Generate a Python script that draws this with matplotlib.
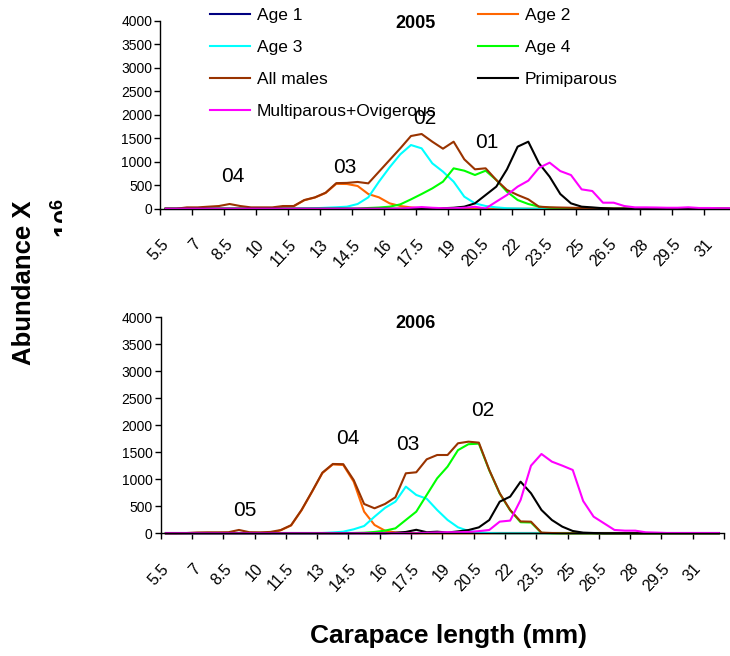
#! /usr/bin/env python3

import matplotlib
matplotlib.use('Agg')
import matplotlib.pyplot as plt
from matplotlib.patches import Rectangle
import numpy as np

# carapace length classes (0.5 mm bins, 5.5 .. 32)
n_class = 54
tick_labels = ['5.5', '7', '8.5', '10', '11.5', '13', '14.5', '16', '17.5',
               '19', '20.5', '22', '23.5', '25', '26.5', '28', '29.5', '31']

series_names = ['Age 1', 'Age 2', 'Age 3', 'Age 4', 'All males',
                'Primiparous', 'Multiparous+Ovigerous']
series_colors = ['#000080', '#FF6600', '#00FFFF', '#00FF00', '#993300',
                 '#000000', '#FF00FF']

# 2005 abundance (x 10^6)
age1_2005 = [0] * 54
age2_2005 = [0] * 11 + [40, 50, 180, 238, 335, 530, 526, 484, 313, 242, 114,
                        57, 28, 10] + [0] * 29
age3_2005 = [0] * 13 + [5, 10, 20, 30, 43, 100, 242, 576, 882, 1159, 1357,
                        1286, 967, 790, 576, 256, 114, 57, 28, 10, 5] + [0] * 20
age4_2005 = [0] * 19 + [15, 25, 43, 92, 199, 313, 433, 576, 860, 810, 718,
                        810, 612, 363, 185, 100, 43, 20, 10] + [0] * 16
males_2005 = [0, 0, 28, 28, 43, 57, 100, 57, 28, 28,
              28, 57, 57, 185, 242, 341, 545, 550, 570, 540,
              789, 1038, 1287, 1549, 1592, 1428, 1279, 1428, 1052, 839,
              861, 612, 399, 292, 200, 43, 30, 25, 20, 15,
              10, 10, 5, 5] + [0] * 10
primi_2005 = [0] * 26 + [10, 20, 43, 114, 292, 470, 839, 1322, 1428, 968,
                         682, 313, 114, 43, 28, 10] + [0] * 12
multi_2005 = [0] * 23 + [20, 35, 20, 10, 10, 20, 40, 5, 150, 292, 470, 597,
                         870, 981, 802, 717, 412, 377, 128, 128, 57, 28, 28,
                         25, 20, 20, 30, 15, 15, 10, 10]

# 2006 abundance (x 10^6)
age1_2006 = [0] * 54
age2_2006 = [0] * 11 + [55, 145, 425, 765, 1115, 1275, 1265, 956, 401, 154,
                        49, 15, 5] + [0] * 30
age3_2006 = [0] * 15 + [5, 15, 30, 74, 135, 308, 470, 586, 864, 710, 640,
                        432, 247, 111, 43, 18, 5] + [0] * 22
age4_2006 = [0] * 18 + [5, 10, 25, 49, 92, 247, 401, 710, 1018, 1235, 1540,
                        1650, 1660, 1165, 735, 425, 205, 200, 8] + [0] * 17
males_2006 = [0, 0, 5, 15, 18, 18, 20, 62, 20, 18,
              25, 60, 150, 432, 771, 1123, 1284, 1280, 987, 543,
              463, 543, 667, 1111, 1130, 1370, 1450, 1450, 1667, 1697,
              1679, 1172, 741, 432, 220, 215, 12, 5] + [0] * 16
primi_2006 = [0] * 22 + [10, 25, 65, 20, 30, 15, 35, 60, 110, 246, 586, 679,
                         956, 741, 432, 246, 123, 43, 12, 5] + [0] * 12
multi_2006 = [0] * 25 + [10, 15, 20, 20, 25, 40, 62, 216, 235, 617, 1253,
                         1469, 1327, 1253, 1173, 598, 308, 185, 62, 49, 49,
                         18, 12, 5, 5, 5, 5, 5, 5]

data_2005 = [age1_2005, age2_2005, age3_2005, age4_2005, males_2005,
             primi_2005, multi_2005]
data_2006 = [age1_2006, age2_2006, age3_2006, age4_2006, males_2006,
             primi_2006, multi_2006]

W, H = 730, 656


def fx(x):
    return x / W


def fy(y):
    return 1 - y / H


def draw_panel(ax, data):
    x = np.arange(n_class)
    lines = []
    for vals, name, col in zip(data, series_names, series_colors):
        ln, = ax.plot(x, vals, color=col, lw=1.5, label=name, clip_on=False)
        lines.append(ln)
    ax.set_xlim(-0.5, n_class - 0.5)
    ax.set_ylim(0, 4000)
    ax.set_yticks(np.arange(0, 4001, 500))
    ax.set_xticks(np.arange(-0.5, n_class, 3))
    ax.set_xticklabels(tick_labels + [''])
    for s in ['top', 'right']:
        ax.spines[s].set_visible(False)
    for s in ['left', 'bottom']:
        ax.spines[s].set_linewidth(1)
    ax.tick_params(direction='out', length=4, width=1, labelsize=10, colors='black')
    ax.tick_params(axis='y', pad=1.8)
    ax.tick_params(axis='x', pad=16, labelsize=11.5)
    for lab in ax.get_xticklabels():
        lab.set_rotation(47)
        lab.set_ha('right')
        lab.set_va('top')
        lab.set_rotation_mode('anchor')
    return lines


plt.rcParams['font.family'] = ['Liberation Sans', 'DejaVu Sans']
plt.rcParams['mathtext.fontset'] = 'custom'
plt.rcParams['mathtext.bf'] = 'Liberation Sans:bold'
plt.rcParams['mathtext.rm'] = 'Liberation Sans'

fig = plt.figure(figsize=(W / 100, H / 100), dpi=100, facecolor='white')

ax1 = fig.add_axes([fx(160.3), fy(208.7), 576 / W, 187.7 / H])
ax2 = fig.add_axes([fx(160.7), fy(533.3), 563.3 / W, 216 / H])

lines = draw_panel(ax1, data_2005)
draw_panel(ax2, data_2006)

order = [0, 2, 4, 6, 1, 3, 5]
fig.legend([lines[i] for i in order], [series_names[i] for i in order],
           loc='upper left', bbox_to_anchor=(fx(210), fy(8)), ncol=2,
           frameon=False, fontsize=12.5, handlelength=2.3, handletextpad=0.4,
           columnspacing=2.4, labelspacing=0.97, borderpad=0, borderaxespad=0)

fig.text(fx(415), fy(23), '2005', fontsize=13, fontweight='bold', ha='center', va='center')
fig.text(fx(415), fy(323), '2006', fontsize=13, fontweight='bold', ha='center', va='center')

# cohort labels
cohorts = [('04', 233, 177), ('03', 345, 167), ('02', 425, 118), ('01', 487, 143),
           ('05', 245, 510), ('04', 348, 438), ('03', 408, 444), ('02', 483, 410)]
for txt, cx, cy in cohorts:
    fig.text(fx(cx), fy(cy), txt, fontsize=15, ha='center', va='center')

fig.text(fx(449), fy(636), 'Carapace length (mm)', fontsize=19,
         fontweight='bold', ha='center', va='center')
fig.text(fx(24), fy(283), 'Abundance X', fontsize=18.5, fontweight='bold',
         rotation=90, ha='center', va='center')
t = fig.text(fx(66), fy(218), r'$\mathbf{10^6}$', fontsize=18.5,
             rotation=90, ha='center', va='center')
t.set_clip_path(Rectangle((0, 0), fx(62), 1, transform=fig.transFigure))

fig.savefig('out.png', dpi=100)
